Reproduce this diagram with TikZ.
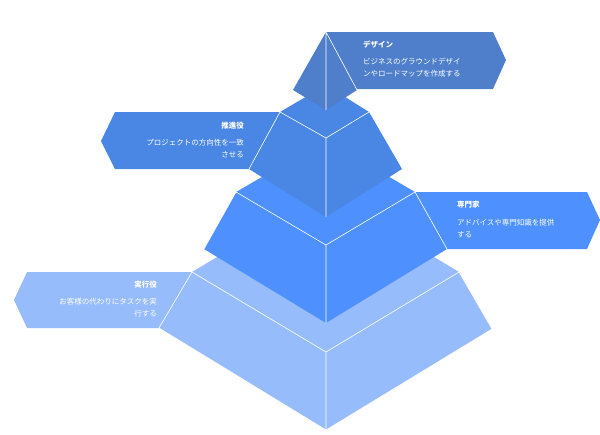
\documentclass[tikz,border=0pt]{standalone}
\usepackage{fontspec}
\setmainfont{Noto Sans CJK JP}
\begin{document}
\begin{tikzpicture}[x=1pt,y=-1pt,
  edge/.style={draw=white,line width=0.6pt,line join=round},
  ttl/.style={font=\fontsize{7.5}{12}\selectfont\bfseries,text=white,inner sep=0pt},
  dsc/.style={font=\fontsize{7.5}{12}\selectfont,text=white,inner sep=0pt,align=left}]
\definecolor{cA}{HTML}{4F7FCB}
\definecolor{cB}{HTML}{4A86E3}
\definecolor{cC}{HTML}{4D90FE}
\definecolor{cD}{HTML}{97BCFC}
\useasboundingbox (0,0) rectangle (600,434);
% banners
\fill[cA] (326,32) -- (493,32) -- (506,60) -- (493,89) -- (340,89) -- cycle;
\fill[cB] (280,112) -- (115,112) -- (101,141) -- (115,169) -- (249,169) -- cycle;
\fill[cC] (415,192) -- (587,192) -- (600,220) -- (587,249) -- (447,249) -- cycle;
\fill[cD] (192,272) -- (27,272) -- (14,300) -- (27,328) -- (159,328) -- cycle;
% tier 4
\fill[cD] (192,272) -- (159,328) -- (326,430) -- (492,329) -- (459,272) -- (326,192) -- cycle;
\draw[edge] (192,272) -- (326,352) -- (459,272) (326,352) -- (326,430)
  (192,272) -- (159,328) -- (326,430) -- (492,329) -- (459,272);
% tier 3
\fill[cC] (236,192) -- (204,249) -- (326,323) -- (447,249) -- (415,192) -- (326,140) -- cycle;
\draw[edge] (236,192) -- (326,245) -- (415,192) (326,245) -- (326,323)
  (236,192) -- (204,249) (447,249) -- (415,192);
% tier 2
\fill[cB] (280,112) -- (249,169) -- (326,217) -- (402,169) -- (369,112) -- (326,85) -- cycle;
\draw[edge] (280,112) -- (326,138) -- (369,112) (326,138) -- (326,217)
  (280,112) -- (249,169);
% tier 1
\fill[cA] (326,32) -- (293,90) -- (326,110) -- (357,90) -- cycle;
\draw[edge] (326,32) -- (326,110) (326,32) -- (357,90);
% texts
\node[ttl,anchor=west] (t1) at (363,45) {デザイン};
\node[dsc,anchor=north west] (d1) at (363,58) {ビジネスのグラウンドデザイ\\ンやロードマップを作成する};
\node[ttl,anchor=east] (t2) at (244,126) {推進役};
\node[dsc,anchor=north east,align=right] (d2) at (244,139) {プロジェクトの方向性を一致\\させる};
\node[ttl,anchor=west] (t3) at (457,205) {専門家};
\node[dsc,anchor=north west] (d3) at (457,219) {アドバイスや専門知識を提供\\する};
\node[ttl,anchor=east] (t4) at (157,285) {実行役};
\node[dsc,anchor=north east,align=right] (d4) at (157,298) {お客様の代わりにタスクを実\\行する};
\end{tikzpicture}
\end{document}
